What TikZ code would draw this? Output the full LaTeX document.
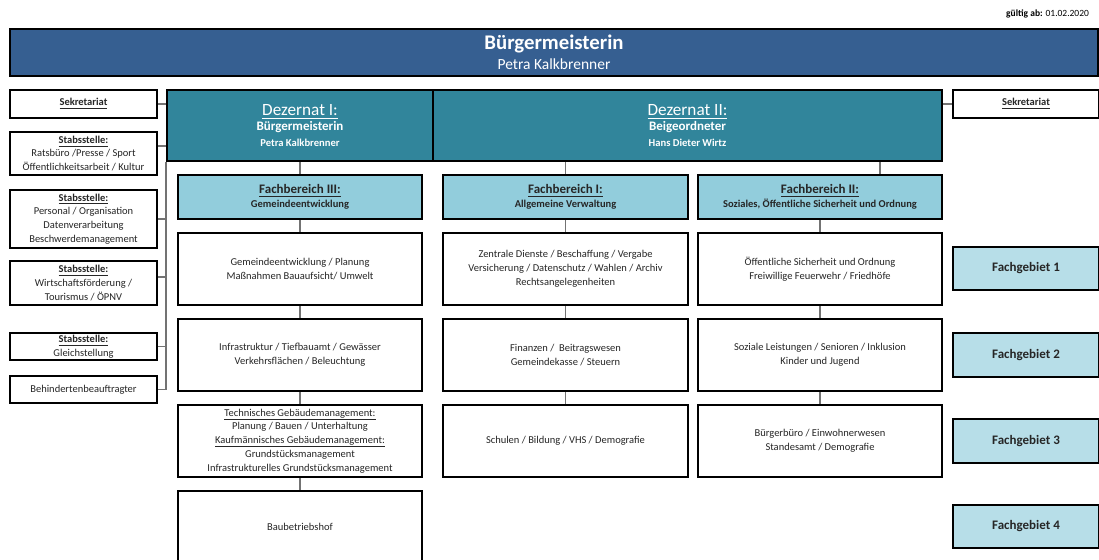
\documentclass[tikz,border=0pt]{standalone}
\usepackage{fontspec}
\setmainfont{Carlito}
\definecolor{MayorBlue}{RGB}{54,95,145}
\definecolor{DezTeal}{RGB}{49,133,155}
\definecolor{HeadBlue}{RGB}{146,205,220}
\definecolor{FieldBlue}{RGB}{183,222,232}
\newcommand\bodyfont{\fontsize{5.25}{6.9}\selectfont}
\newcommand\uln[1]{\underline{\raisebox{0pt}[\height][0pt]{#1}}}

\begin{document}
\begin{tikzpicture}[
      x = 0.5pt, y = -0.5pt,
      Line/.style = {draw = black!55, line width = 0.6pt},
      Box/.style = {draw, line width = 1.1pt, fill = white, inner sep = 0pt, align = center, text = black!85, font = \bodyfont},
      Staff/.style = {Box, minimum width = 73.5pt},
      Dez/.style = {Box, fill = DezTeal, text = white, minimum height = 35.5pt, font = \fontsize{5.3}{7.6}\selectfont},
      Head/.style = {Box, fill = HeadBlue, minimum width = 122pt, minimum height = 22pt},
      Unit/.style = {Box, minimum width = 122pt, minimum height = 36pt},
      Field/.style = {Box, fill = FieldBlue, minimum width = 73pt, font = \bfseries\fontsize{6.5}{8}\selectfont}
    ]
    \useasboundingbox (0,0) rectangle (1099,559);

    \node at (1096,16.5) [anchor = base east, font = \fontsize{4.75}{6}\selectfont](valid){\textbf{gültig ab:} 01.02.2020};

    \node at (554,52.5) [Box, fill = MayorBlue, text = white, minimum width = 544pt, minimum height = 23.5pt, font = \fontsize{7.75}{9.85}\selectfont](mayor)
      {{\bfseries\fontsize{10.4}{12}\selectfont Bürgermeisterin}\\Petra Kalkbrenner};

    \node at (83.5,104) [Staff, minimum height = 14pt](sekL){\textbf{\uln{Sekretariat}}};
    \node at (83.5,153.5) [Staff, minimum height = 21.5pt](stab1){\textbf{\uln{Stabsstelle:}}\\Ratsbüro /Presse / Sport\\Öffentlichkeitsarbeit / Kultur};
    \node at (83.5,219) [Staff, minimum height = 29pt](stab2){\textbf{\uln{Stabsstelle:}}\\Personal / Organisation\\Datenverarbeitung\\Beschwerdemanagement};
    \node at (83.5,283) [Staff, minimum height = 22pt](stab3){\textbf{\uln{Stabsstelle:}}\\Wirtschaftsförderung /\\Tourismus / ÖPNV};
    \node at (83.5,346.5) [Staff, minimum height = 13.5pt](stab4){\textbf{\uln{Stabsstelle:}}\\Gleichstellung};
    \node at (83.5,389.5) [Staff, minimum height = 13.5pt](behind){Behindertenbeauftragter};

    \node at (300,125.5) [Dez, minimum width = 133pt](dez1)
      {{\fontsize{8.6}{10}\selectfont\underline{Dezernat I:}}\\{\bfseries\fontsize{6.5}{7.5}\selectfont Bürgermeisterin}\\{\bfseries Petra Kalkbrenner}};
    \node at (687.5,125.5) [Dez, minimum width = 254.5pt](dez2)
      {{\fontsize{8.6}{10}\selectfont\underline{Dezernat II:}}\\{\bfseries\fontsize{6.5}{7.5}\selectfont Beigeordneter}\\{\bfseries Hans Dieter Wirtz}};
    \node at (1026,104) [Staff, minimum width = 73pt, minimum height = 14pt](sekR){\textbf{\uln{Sekretariat}}};

    \node at (300,197) [Head](fb3){{\bfseries\fontsize{6.5}{7.5}\selectfont\underline{Fachbereich III:}}\\{\bfseries Gemeindeentwicklung}};
    \node at (565.5,197) [Head, minimum width = 122.5pt](fb1){{\bfseries\fontsize{6.5}{7.5}\selectfont\underline{Fachbereich I:}}\\{\bfseries Allgemeine Verwaltung}};
    \node at (820,197) [Head](fb2){{\bfseries\fontsize{6.5}{7.5}\selectfont\underline{Fachbereich II:}}\\{\bfseries Soziales, Öffentliche Sicherheit und Ordnung}};

    \node at (300,269) [Unit](u31){Gemeindeentwicklung / Planung\\Maßnahmen Bauaufsicht/ Umwelt};
    \node at (300,355) [Unit](u32){Infrastruktur / Tiefbauamt / Gewässer\\Verkehrsflächen / Beleuchtung};
    \node at (300,441) [Unit](u33){\uln{Technisches Gebäudemanagement:}\\Planung / Bauen / Unterhaltung\\\uln{Kaufmännisches Gebäudemanagement:}\\Grundstücksmanagement\\Infrastrukturelles Grundstücksmanagement};
    \node at (300,527) [Unit](u34){Baubetriebshof};

    \node at (565.5,269) [Unit, minimum width = 122.5pt](u11){Zentrale Dienste / Beschaffung / Vergabe\\Versicherung / Datenschutz / Wahlen / Archiv\\Rechtsangelegenheiten};
    \node at (565.5,355) [Unit, minimum width = 122.5pt](u12){Finanzen /\ \ Beitragswesen\\Gemeindekasse / Steuern};
    \node at (565.5,441) [Unit, minimum width = 122.5pt](u13){Schulen / Bildung / VHS / Demografie};

    \node at (820,269) [Unit](u21){Öffentliche Sicherheit und Ordnung\\Freiwillige Feuerwehr / Friedhöfe};
    \node at (820,355) [Unit](u22){Soziale Leistungen / Senioren / Inklusion\\Kinder und Jugend};
    \node at (820,441) [Unit](u23){Bürgerbüro / Einwohnerwesen\\Standesamt / Demografie};

    \node at (1026,268.5) [Field, minimum height = 21.5pt](fg1){Fachgebiet 1};
    \node at (1026,355) [Field, minimum height = 22pt](fg2){Fachgebiet 2};
    \node at (1026,441) [Field, minimum height = 22pt](fg3){Fachgebiet 3};
    \node at (1026,526.5) [Field, minimum height = 21.5pt](fg4){Fachgebiet 4};

    \path [Line] (sekL.east) -- (sekL.east -| dez1.west);
    \path [Line] ([yshift = 3.75pt]stab1.east) -- ([yshift = 3.75pt]stab1.east -| dez1.west);
    \path [Line] (dez1.south west) |- (behind.east);
    \path [Line] (stab2.east) -- (stab2.east -| dez1.west);
    \path [Line] ([yshift = 3pt]stab3.east) -- ([yshift = 3pt]stab3.east -| dez1.west);
    \path [Line] (stab4.east) -- (stab4.east -| dez1.west);
    \path [Line] (sekR.west) -- (sekR.west -| dez2.east);

    \path [Line] (dez1.south) -- (fb3.north);
    \path [Line] (fb3) -- (u31);
    \path [Line] (u31) -- (u32);
    \path [Line] (u32) -- (u33);
    \path [Line] (u33) -- (u34);

    \path [Line] (dez2.south -| fb1.north) -- (fb1.north);
    \path [Line] (fb1) -- (u11);
    \path [Line] (u11) -- (u12);
    \path [Line] (u12) -- (u13);

    \path [Line] ([xshift = 30pt]fb2.north |- dez2.south) -- ([xshift = 30pt]fb2.north);
    \path [Line] (fb2) -- (u21);
    \path [Line] (u21) -- (u22);
    \path [Line] (u22) -- (u23);
  \end{tikzpicture}
\end{document}
